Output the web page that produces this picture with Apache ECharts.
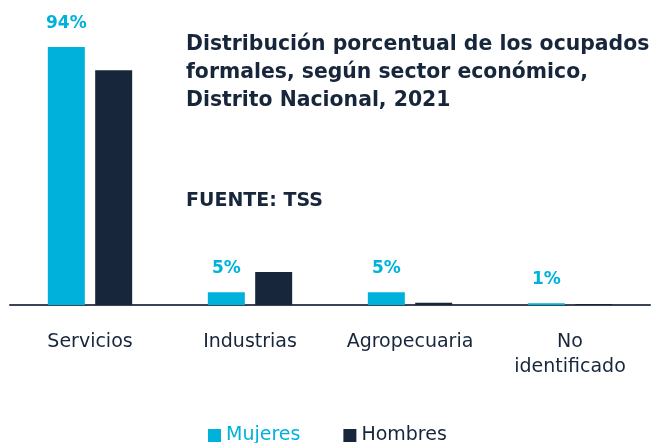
<!DOCTYPE html>
<html>
<head>
<meta charset="utf-8">
<script src="https://cdn.jsdelivr.net/npm/echarts@6/dist/echarts.min.js"></script>
<style>
  html, body { margin: 0; padding: 0; background: #fff; }
  #chart { width: 653px; height: 443px; }
</style>
</head>
<body>
<div id="chart"></div>
<script>
// sectores economicos
const categories = ['Servicios', 'Industrias', 'Agropecuaria', 'No\nidentificado']
// porcentajes
const mujeres = [94, 4.6, 4.6, 0.6]
const hombres = [85.5, 12, 0.8, 0.4]

const cyan = '#00b2db'
const navy = '#17263a'
const font = 'DejaVu Sans'

const chart = echarts.init(document.getElementById('chart'))
chart.setOption({
  animation: false,
  textStyle: { fontFamily: font },
  title: [{
    text: 'Distribución porcentual de los ocupados\nformales, según sector económico,\nDistrito Nacional, 2021',
    left: 181,
    top: 26,
    textStyle: { fontSize: 20.4, fontWeight: 'bold', color: navy, lineHeight: 28, fontFamily: font }
  }, {
    text: 'FUENTE: TSS',
    left: 181,
    top: 187,
    textStyle: { fontSize: 19, fontWeight: 'bold', color: navy, fontFamily: font }
  }],
  legend: {
    top: 421,
    left: 203,
    itemWidth: 13,
    itemHeight: 13,
    itemGap: 43,
    icon: 'rect',
    textStyle: { fontSize: 19, fontFamily: font },
    data: [
      { name: 'Mujeres', textStyle: { color: cyan } },
      { name: 'Hombres', textStyle: { color: navy } }
    ]
  },
  grid: {
    left: 10,
    right: 3,
    top: 30.5,
    bottom: 138
  },
  xAxis: {
    type: 'category',
    data: categories,
    axisTick: { show: false },
    axisLine: { lineStyle: { color: '#3a4454', width: 2 } },
    axisLabel: { color: navy, fontSize: 19, lineHeight: 25, margin: 25, interval: 0 }
  },
  yAxis: {
    type: 'value',
    min: 0,
    max: 100,
    show: false,
    splitLine: { show: false }
  },
  series: [{
    name: 'Mujeres',
    type: 'bar',
    data: mujeres,
    barWidth: 37,
    barGap: '28%',
    itemStyle: { color: cyan },
    label: {
      show: true,
      position: 'top',
      distance: 15,
      color: cyan,
      fontSize: 17,
      fontWeight: 'bold',
      formatter: p => Math.round(p.value) + '%'
    }
  }, {
    name: 'Hombres',
    type: 'bar',
    data: hombres,
    barWidth: 37,
    itemStyle: { color: navy }
  }]
})
</script>
</body>
</html>
